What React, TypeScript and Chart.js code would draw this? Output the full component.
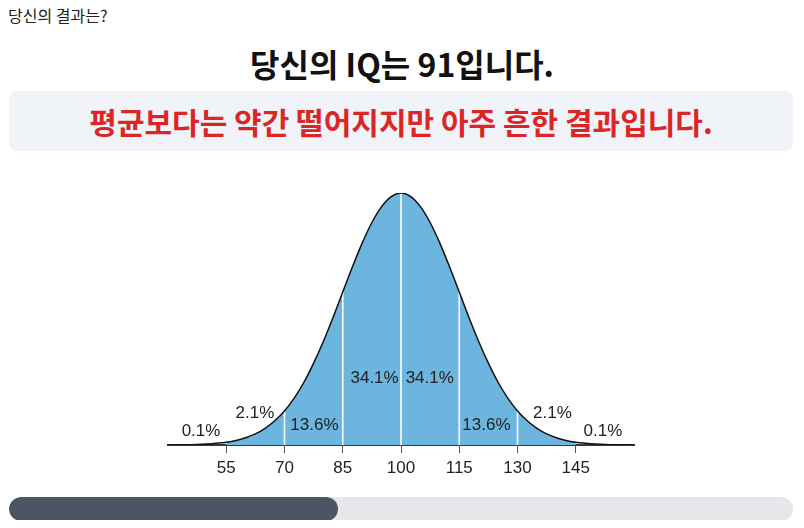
import React, { useEffect, useRef } from "react";
import { Chart, registerables } from "chart.js";

Chart.register(...registerables);

// IQ sample points and relative curve height (% of peak)
const iqPoints = [
  40, 42.5, 45, 47.5, 50, 52.5, 55, 57.5, 60, 62.5, 65, 67.5, 70, 72.5, 75, 77.5, 80, 82.5, 85, 87.5,
  90, 92.5, 95, 97.5, 100, 102.5, 105, 107.5, 110, 112.5, 115, 117.5, 120, 122.5, 125, 127.5, 130,
  132.5, 135, 137.5, 140, 142.5, 145, 147.5, 150, 152.5, 155, 157.5, 160,
];
const curveHeights = [
  0.0, 0.1, 0.1, 0.2, 0.4, 0.7, 1.1, 1.8, 2.9, 4.4, 6.6, 9.6, 13.5, 18.6, 24.9, 32.5, 41.1, 50.6, 60.7,
  70.7, 80.1, 88.3, 94.6, 98.6, 100, 98.6, 94.6, 88.3, 80.1, 70.7, 60.7, 50.6, 41.1, 32.5, 24.9, 18.6,
  13.5, 9.6, 6.6, 4.4, 2.9, 1.8, 1.1, 0.7, 0.4, 0.2, 0.1, 0.1, 0.0,
];
const fillRange = [55, 145];
const dividerIQ = [70, 85, 100, 115, 130];
const tickValues = [55, 70, 85, 100, 115, 130, 145];
const pctLabels = ["0.1%", "2.1%", "13.6%", "34.1%", "34.1%", "13.6%", "2.1%", "0.1%"];
const labelIQ = [48.5, 62.4, 77.7, 93.2, 107.4, 122.0, 139.0, 152.0];
const labelHeight = [5.6, 12.5, 7.8, 26.6, 26.6, 7.8, 12.5, 5.6];

const userIQ = 91;
const progressPct = 42;

const BLUE = "#6cb5de";
const LABEL_FONT = '17px "Liberation Sans", Arial, sans-serif';

const labelPlugin = {
  id: "pctLabels",
  afterDatasetsDraw(chart: any) {
    const { ctx, scales } = chart;
    ctx.save();
    ctx.font = LABEL_FONT;
    ctx.fillStyle = "#222";
    ctx.textAlign = "center";
    ctx.textBaseline = "middle";
    pctLabels.forEach((t, i) => {
      ctx.fillText(t, scales.x.getPixelForValue(labelIQ[i]), scales.y.getPixelForValue(labelHeight[i]));
    });
    ctx.restore();
  },
};

function BellChart() {
  const ref = useRef<HTMLCanvasElement | null>(null);
  useEffect(() => {
    if (!ref.current) return;
    const curve = iqPoints.map((x, i) => ({ x, y: curveHeights[i] }));
    const fillData = curve.filter((p) => p.x >= fillRange[0] && p.x <= fillRange[1]);
    const dividers = dividerIQ.map((v) => {
      const h = curveHeights[iqPoints.indexOf(v)];
      return {
        data: [
          { x: v, y: 0 },
          { x: v, y: h },
        ],
        borderColor: "#ffffff",
        borderWidth: 1.6,
        pointRadius: 0,
        fill: false,
        order: 2,
      };
    });
    const chart = new Chart(ref.current, {
      type: "line",
      data: {
        datasets: [
          {
            data: curve,
            borderColor: "#111111",
            borderWidth: 1.5,
            pointRadius: 0,
            fill: false,
            cubicInterpolationMode: "monotone",
            order: 1,
          },
          ...dividers,
          {
            data: fillData,
            borderWidth: 0,
            borderColor: BLUE,
            backgroundColor: BLUE,
            pointRadius: 0,
            fill: "origin",
            cubicInterpolationMode: "monotone",
            order: 3,
          },
        ] as any,
      },
      options: {
        animation: false,
        responsive: false,
        maintainAspectRatio: false,
        layout: { padding: { left: 160, right: 162, top: 23, bottom: 2.6 } },
        plugins: { legend: { display: false }, tooltip: { enabled: false } },
        elements: { line: { tension: 0.4 } },
        scales: {
          x: {
            type: "linear",
            min: 40,
            max: 160,
            afterBuildTicks: (scale: any) => {
              scale.ticks = tickValues.map((v) => ({ value: v }));
            },
            border: { display: true, color: "#3a3a3a", width: 2 },
            grid: { drawOnChartArea: false, drawTicks: true, tickLength: 8, color: "#555", lineWidth: 1 },
            ticks: {
              color: "#222",
              padding: 5,
              maxRotation: 0,
              autoSkip: false,
              font: { family: '"Liberation Sans", Arial, sans-serif', size: 17 },
            },
          },
          y: { display: false, min: 0, max: 100 },
        },
      },
      plugins: [labelPlugin],
    });
    return () => chart.destroy();
  }, []);
  return <canvas ref={ref} width={788} height={316} style={{ position: "absolute", left: 0, top: 162, width: 788, height: 316 }} />;
}

export default function App() {
  const font = '"Noto Sans CJK KR", "Noto Sans", sans-serif';
  return (
    <div style={{ position: "relative", height: 512, fontFamily: font }}>
      <div style={{ position: "absolute", left: 0, top: -1, fontSize: 16, lineHeight: "16px", color: "#222" }}>
        당신의 결과는?
      </div>
      <div
        style={{
          position: "absolute",
          left: 0,
          top: 35,
          width: 788,
          height: 40,
          lineHeight: "40px",
          textAlign: "center",
          fontSize: 32,
          fontWeight: 700,
          color: "#111",
        }}
      >
        당신의 IQ는 {userIQ}입니다.
      </div>
      <div
        style={{
          position: "absolute",
          left: 1,
          top: 83,
          width: 784,
          height: 60,
          borderRadius: 8,
          background: "#f0f3f8",
          textAlign: "center",
          lineHeight: "60px",
          fontSize: 30,
          fontWeight: 700,
          color: "#dc2626",
        }}
      >
        평균보다는 약간 떨어지지만 아주 흔한 결과입니다.
      </div>
      <BellChart />
      <div
        style={{
          position: "absolute",
          left: 1,
          top: 489,
          width: 784,
          height: 24,
          borderRadius: 12,
          background: "#e5e7eb",
          overflow: "hidden",
        }}
      >
        <div style={{ width: `${progressPct}%`, height: "100%", borderRadius: 12, background: "#4b5563" }} />
      </div>
    </div>
  );
}
